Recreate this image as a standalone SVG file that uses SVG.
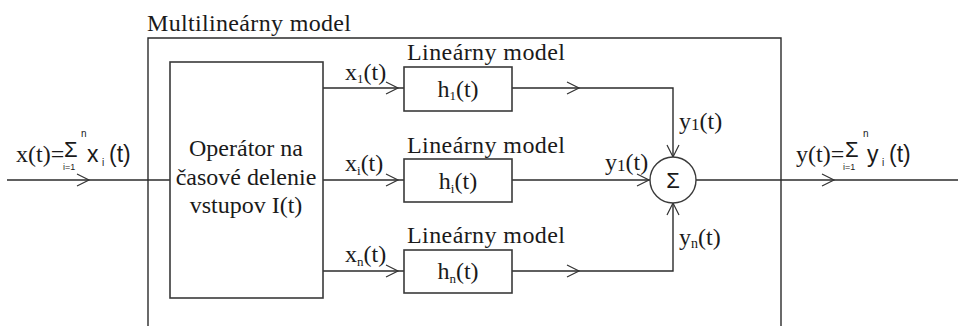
<svg xmlns="http://www.w3.org/2000/svg" xmlns:xlink="http://www.w3.org/1999/xlink" width="964" height="326" viewBox="0 0 964 326">
<style>
.ln{fill:none;stroke:#2b2b2b;stroke-width:1.4}
.bx{fill:#fff;stroke:#3a3a3a;stroke-width:1.6}
.t{font-family:"Liberation Serif","Times New Roman",serif;font-size:24px;fill:#1a1a1a}
.s{font-family:"Liberation Sans",Arial,sans-serif;fill:#1a1a1a}
</style>
<defs>
<path id="chev" d="M-12,-6 L0,0 L-12,6" fill="none" stroke="#333" stroke-width="1.2"/>
</defs>
<rect width="964" height="326" fill="#fff"/>

<g id="outer">
<path class="ln" d="M148,330 V38 H781 V330"/>
<text class="t" x="147" y="31" textLength="204">Multilineárny model</text>
</g>

<g id="connectors">
<path class="ln" d="M7,180 H170"/>
<path class="ln" d="M323,88 H404"/>
<path class="ln" d="M323,180 H404"/>
<path class="ln" d="M323,271 H404"/>
<path class="ln" d="M512,88 H673 V157"/>
<path class="ln" d="M512,180 H650"/>
<path class="ln" d="M512,271 H673 V203"/>
<path class="ln" d="M696,180 H958"/>
<use xlink:href="#chev" transform="translate(89,180)"/>
<use xlink:href="#chev" transform="translate(398,88)"/>
<use xlink:href="#chev" transform="translate(398,180)"/>
<use xlink:href="#chev" transform="translate(398,271)"/>
<use xlink:href="#chev" transform="translate(579,88)"/>
<use xlink:href="#chev" transform="translate(579,271)"/>
<use xlink:href="#chev" transform="translate(673,157) rotate(90)"/>
<use xlink:href="#chev" transform="translate(673,203) rotate(-90)"/>
<use xlink:href="#chev" transform="translate(649,180)"/>
<use xlink:href="#chev" transform="translate(834,180)"/>
<text class="t" x="345" y="80">x<tspan font-size="13" dy="3">1</tspan><tspan dy="-3">(t)</tspan></text>
<text class="t" x="345" y="171">x<tspan font-size="13" dy="4">i</tspan><tspan dy="-4">(t)</tspan></text>
<text class="t" x="345" y="262">x<tspan font-size="13" dy="4">n</tspan><tspan dy="-4">(t)</tspan></text>
<text class="t" x="679" y="129">y<tspan font-size="17" dy="1">1</tspan><tspan dy="-1">(t)</tspan></text>
<text class="t" x="605" y="170">y<tspan font-size="17" dy="1">1</tspan><tspan dy="-1">(t)</tspan></text>
<text class="t" x="679" y="245">y<tspan font-size="14" dy="3">n</tspan><tspan dy="-3">(t)</tspan></text>
</g>

<g id="input-formula">
<text class="t" x="16" y="162">x(t)=</text>
<text class="s" x="64" y="157" font-size="22">Σ</text>
<text class="s" x="81" y="137" font-size="10">n</text>
<text class="s" x="63" y="170" font-size="9">i=1</text>
<text class="s" x="87" y="162" font-size="23">x</text>
<text class="s" x="102" y="166" font-size="10">i</text>
<text class="s" x="109" y="162" font-size="23">(t)</text>
</g>

<g id="operator">
<rect class="bx" x="170" y="62" width="153" height="236"/>
<text class="t" x="246" y="156" text-anchor="middle">Operátor na</text>
<text class="t" x="246" y="185" text-anchor="middle">časové delenie</text>
<text class="t" x="246" y="213" text-anchor="middle">vstupov I(t)</text>
</g>

<g id="model1">
<text class="t" x="407" y="60" textLength="158">Lineárny model</text>
<rect class="bx" x="404" y="67" width="108" height="44"/>
<text class="t" x="458" y="97" text-anchor="middle">h<tspan font-size="13" dy="3">1</tspan><tspan dy="-3">(t)</tspan></text>
</g>

<g id="model2">
<text class="t" x="407" y="153" textLength="158">Lineárny model</text>
<rect class="bx" x="404" y="159" width="108" height="43"/>
<text class="t" x="458" y="189" text-anchor="middle">h<tspan font-size="13" dy="4">i</tspan><tspan dy="-4">(t)</tspan></text>
</g>

<g id="model3">
<text class="t" x="407" y="243" textLength="158">Lineárny model</text>
<rect class="bx" x="404" y="250" width="108" height="43"/>
<text class="t" x="458" y="279" text-anchor="middle">h<tspan font-size="13" dy="4">n</tspan><tspan dy="-4">(t)</tspan></text>
</g>

<g id="sum">
<circle cx="673" cy="180" r="23" fill="#fff" stroke="#3a3a3a" stroke-width="1.4"/>
<text class="s" x="673" y="188" font-size="22" text-anchor="middle">Σ</text>
</g>

<g id="output-formula">
<text class="t" x="796" y="162">y(t)=</text>
<text class="s" x="845" y="157" font-size="22">Σ</text>
<text class="s" x="863" y="137" font-size="10">n</text>
<text class="s" x="843" y="170" font-size="9">i=1</text>
<text class="s" x="867" y="162" font-size="23">y</text>
<text class="s" x="882" y="166" font-size="10">i</text>
<text class="s" x="889" y="162" font-size="23">(t)</text>
</g>
</svg>
